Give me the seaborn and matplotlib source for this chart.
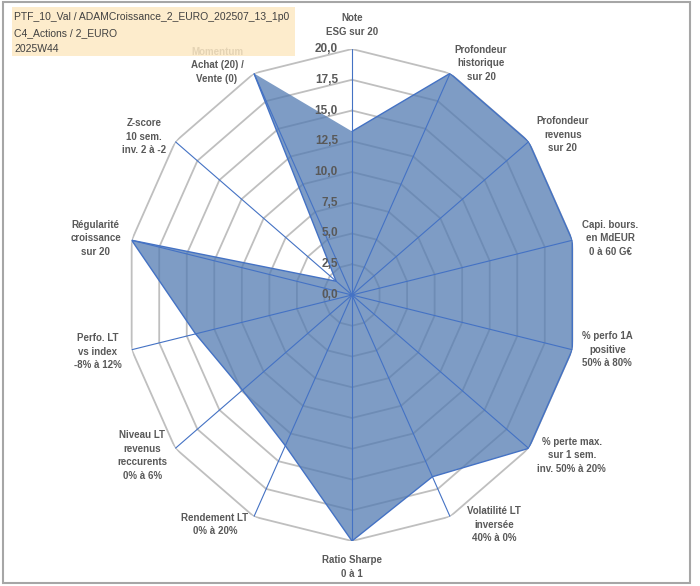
import numpy as np
import matplotlib
matplotlib.use("Agg")
import matplotlib.pyplot as plt
import seaborn as sns
from matplotlib.patches import Rectangle

# Donnees du radar (valeurs ramenees sur 20)
categories = [
    "Note\nESG sur 20",
    "Profondeur\nhistorique\nsur 20",
    "Profondeur\nrevenus\nsur 20",
    "Capi. bours.\nen MdEUR\n0 à 60 G€",
    "% perfo 1A\npositive\n50% à 80%",
    "% perte max.\nsur 1 sem.\ninv. 50% à 20%",
    "Volatilité LT\ninversée\n40% à 0%",
    "Ratio Sharpe\n0 à 1",
    "Rendement LT\n0% à 20%",
    "Niveau LT\nrevenus\nreccurents\n0% à 6%",
    "Perfo. LT\nvs index\n-8% à 12%",
    "Régularité\ncroissance\nsur 20",
    "Z-score\n10 sem.\ninv. 2 à -2",
    "Momentum\nAchat (20) /\nVente (0)",
]
values = [13.3, 20, 20, 20, 20, 20, 16.4, 20, 13.6, 12.4, 14.2, 20, 1.8, 20]
ring_levels = [0, 2.5, 5, 7.5, 10, 12.5, 15, 17.5, 20]
title_lines = [
    "PTF_10_Val / ADAMCroissance_2_EURO_202507_13_1p0",
    "C4_Actions / 2_EURO",
    "2025W44",
]

# decalage des libelles (pixels) par rapport au sommet de chaque axe
label_offsets = [(0, 24), (31, 10), (34, 7), (38, 2), (35, 0), (43, -7), (44, -8),
                 (0, -26), (-39, -8), (-33, -7), (-34, -2), (-36, 2), (-31, 5), (-37, 8)]

sns.set_theme(style="white")
plt.rcParams["font.family"] = ["Liberation Sans", "DejaVu Sans"]

W, H = 700, 586
fig = plt.figure(figsize=(W / 100, H / 100), dpi=100)
fig.patch.set_facecolor("white")

# axe polaire legerement aplati comme dans Excel
cx, cy, rx, ry = 352, 295, 226, 246
ax = fig.add_axes([(cx - rx) / W, (H - cy - ry) / H, 2 * rx / W, 2 * ry / H], projection="polar")
ax.set_aspect("auto")
ax.set_theta_zero_location("N")
ax.set_theta_direction(-1)
ax.set_ylim(0, 20)
ax.grid(False)
ax.spines["polar"].set_visible(False)
ax.set_xticks([])
ax.set_yticks([])
ax.patch.set_alpha(0)

theta = np.linspace(0, 2 * np.pi, len(categories), endpoint=False)
theta_closed = np.append(theta, theta[0])
values_closed = values + values[:1]

# grille polygonale
for lvl in ring_levels[1:]:
    ax.plot(theta_closed, [lvl] * len(theta_closed), color="#bfbfbf", lw=1.3, zorder=1)
# rayons
for t in theta:
    ax.plot([t, t], [0, 20], color="#4472C4", lw=0.8, zorder=3)

ax.fill(theta_closed, values_closed, color="#537bb2", alpha=0.75, lw=0, zorder=2)
sns.lineplot(x=theta_closed, y=values_closed, sort=False, ax=ax, color="#4472C4", lw=1.0, zorder=4)
ax.set_xlabel("")
ax.set_ylabel("")

# libelles des axes
for t, lab, (dx, dy) in zip(theta, categories, label_offsets):
    ax.annotate(lab, xy=(t, 20), xytext=(dx, dy), textcoords="offset pixels",
                ha="center", va="center", multialignment="center", fontsize=7,
                fontweight="bold", color="#595959", linespacing=1.45, annotation_clip=False)

# graduations sur l'axe du haut
for lvl in ring_levels:
    ax.annotate(f"{lvl:.1f}".replace(".", ","), xy=(0, lvl), xytext=(-14, 0),
                textcoords="offset pixels", ha="right", va="center", fontsize=8.5,
                fontweight="bold", color="#595959", zorder=5)

# cadre du graphique
fig.add_artist(Rectangle((3 / W, (H - 583) / H), 687 / W, 581 / H, transform=fig.transFigure,
                         fill=False, ec="#a6a6a6", lw=1.5, zorder=1))

# cartouche titre
fig.add_artist(Rectangle((12 / W, (H - 56) / H), 283 / W, 49 / H, transform=fig.transFigure,
                         fc="#fde9c4", ec="none", alpha=0.85, zorder=5))
for i, line in enumerate(title_lines):
    fig.text(14 / W, 1 - (17.5 + 15.5 * i) / H, line, ha="left", va="center",
             fontsize=7.5, color="#404040", zorder=6)

fig.savefig("out.png", dpi=100)
